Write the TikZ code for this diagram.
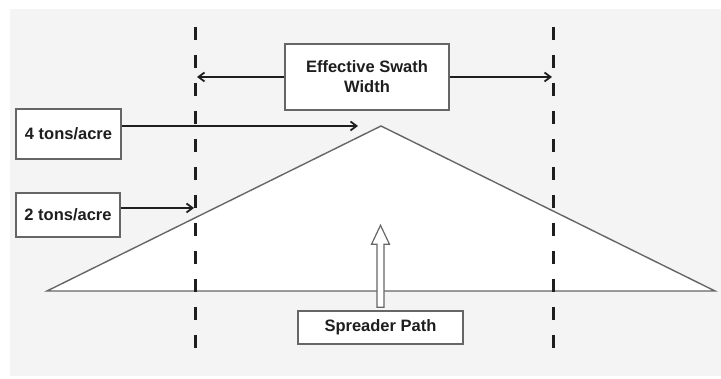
\documentclass[tikz,border=0pt]{standalone}
\usepackage{fontspec}
\setmainfont{Liberation Sans}
\usetikzlibrary{arrows.meta, positioning, calc}
\definecolor{bggray}{HTML}{F4F4F4}
\definecolor{edgegray}{HTML}{666666}
\definecolor{inkblack}{HTML}{1E1E1E}

\begin{document}
\begin{tikzpicture}[
  x=1pt, y=-1pt,
  >={Straight Barb[length=6pt, width=9pt]},
  lbox/.style={draw=edgegray, line width=1.4pt, fill=white, inner sep=0pt,
    font=\fontsize{16.5}{20}\selectfont\bfseries, text=inkblack, align=center},
  ptr/.style={->, draw=inkblack, line width=1.8pt},
  swath/.style={draw=inkblack, line width=3pt, dash pattern=on 13pt off 15pt},
]

% Background
\useasboundingbox (0,0) rectangle (721,379);
\fill[bggray] (10,9) rectangle (721,376);

% Application profile
\draw[edgegray, line width=1.4pt, fill=white, line join=miter]
  (47,291) -- (381,126) -- (715,291) -- cycle;

% Swath edges
\coordinate (swL) at (195,27);
\coordinate (swR) at (553,27);
\draw[swath] (swL) -- (swL |- 0,358);
\draw[swath] (swR) -- (swR |- 0,358);

% === Label boxes ===
\node[lbox, minimum width=164pt, minimum height=66pt] (width) at (367,77)
  {Effective Swath\\Width};
\node[lbox, minimum width=105pt, minimum height=50pt] (four) at (68.5,134)
  {4 tons/acre};
\node[lbox, minimum width=104pt, minimum height=44pt] (two) at (68,215)
  {2 tons/acre};
\node[lbox, minimum width=165pt, minimum height=33pt] (path) at (380.5,327.5)
  {Spreader Path};

% === Pointers ===
\coordinate (tipL) at (197,77);
\coordinate (tipR) at (552,77);
\coordinate (tipFour) at (358,126);
\coordinate (tipTwo) at (194,208);

\draw[ptr] (width.west) -- (tipL);
\draw[ptr] (width.east) -- (tipR);
\draw[ptr] (four.east |- tipFour) -- (tipFour);
\draw[ptr] (two.east |- tipTwo) -- (tipTwo);

% Hollow arrow: spreader travel
\draw[edgegray, line width=1.2pt, fill=white]
  ($(path.north)+(-3.5,-3)$) -- ($(path.north)+(-3.5,-66)$)
  -- ($(path.north)+(-9,-66)$) -- ($(path.north)+(0,-85)$)
  -- ($(path.north)+(9,-66)$) -- ($(path.north)+(3.5,-66)$)
  -- ($(path.north)+(3.5,-3)$) -- cycle;

\end{tikzpicture}
\end{document}
